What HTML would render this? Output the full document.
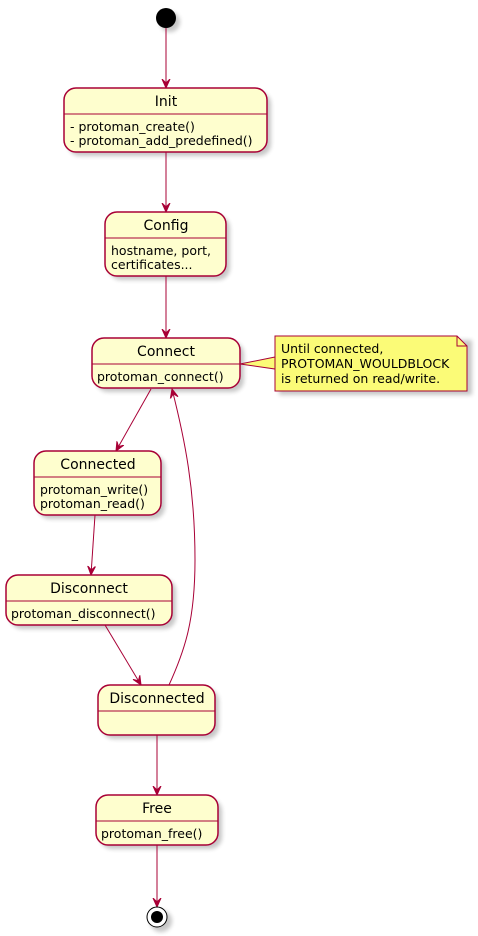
<!DOCTYPE html>
<html><head><meta charset="utf-8"><style>
html,body{margin:0;padding:0;background:#fff;}
svg{display:block;}
text{font-family:"DejaVu Sans","Liberation Sans",sans-serif;fill:#000;}
.t{font-size:14px;text-anchor:middle;}
.b{font-size:12.5px;}
.box{fill:#FEFECE;stroke:#A80036;stroke-width:1.5;}
.ln{stroke:#A80036;stroke-width:1;fill:none;}
.sh{fill:#000;opacity:0.22;filter:url(#bl);}
</style></head><body>
<svg width="478" height="936" viewBox="0 0 478 936" xmlns="http://www.w3.org/2000/svg">
<defs>
<filter id="bl" x="-20%" y="-20%" width="140%" height="140%"><feGaussianBlur stdDeviation="2"/></filter>
<marker id="ar" viewBox="0 0 10 10" refX="9" refY="5" markerWidth="10" markerHeight="10" orient="auto" markerUnits="userSpaceOnUse">
<path d="M0,1 L9,5 L0,9 L4,5 Z" fill="#A80036" stroke="#A80036" stroke-width="1"/></marker>
</defs>

<circle cx="170" cy="22" r="10" class="sh"/>
<rect x="68" y="92" width="203" height="64" rx="12" class="sh"/>
<rect x="109" y="216" width="121" height="64" rx="12" class="sh"/>
<rect x="96" y="342" width="148" height="50" rx="12" class="sh"/>
<rect x="279" y="340" width="193" height="55" class="sh"/>
<rect x="38" y="455" width="127" height="64" rx="12" class="sh"/>
<rect x="10" y="579" width="166" height="50" rx="12" class="sh"/>
<rect x="102" y="689" width="117" height="50" rx="12" class="sh"/>
<rect x="100" y="799" width="122" height="50" rx="12" class="sh"/>
<circle cx="161" cy="921" r="11" class="sh"/>

<circle cx="166" cy="18" r="10" fill="#000"/>

<path d="M166,28 L166,88" class="ln" marker-end="url(#ar)"/>
<path d="M166,152 L166,212" class="ln" marker-end="url(#ar)"/>
<path d="M166,276 L166,338" class="ln" marker-end="url(#ar)"/>
<path d="M151,389 L116,451" class="ln" marker-end="url(#ar)"/>
<path d="M95,515 L91,575" class="ln" marker-end="url(#ar)"/>
<path d="M105,625 L141,685" class="ln" marker-end="url(#ar)"/>
<path d="M169,685 C185,650 195,620 195,560 C195,490 185,440 172,389" class="ln" marker-end="url(#ar)"/>
<path d="M157,735 L157,795" class="ln" marker-end="url(#ar)"/>
<path d="M157,845 L157,907" class="ln" marker-end="url(#ar)"/>

<rect x="64" y="88" width="203" height="64" rx="12" class="box"/>
<line x1="64" y1="114" x2="267" y2="114" class="ln" stroke-width="1.5"/>
<text x="166" y="106" class="t">Init</text>
<text x="70" y="131" class="b">- protoman_create()</text>
<text x="70" y="145" class="b">- protoman_add_predefined()</text>

<rect x="105" y="212" width="121" height="64" rx="12" class="box"/>
<line x1="105" y1="238" x2="226" y2="238" class="ln" stroke-width="1.5"/>
<text x="166" y="230" class="t">Config</text>
<text x="111" y="255" class="b">hostname, port,</text>
<text x="111" y="269" class="b">certificates...</text>

<rect x="92" y="338" width="148" height="50" rx="12" class="box"/>
<line x1="92" y1="364" x2="240" y2="364" class="ln" stroke-width="1.5"/>
<text x="166" y="356" class="t">Connect</text>
<text x="97" y="381" class="b">protoman_connect()</text>

<path d="M240,364 L275,357 L275,369 Z" fill="#FBFB77" stroke="#A80036" stroke-width="1"/>
<path d="M275,336 L457,336 L467,346 L467,391 L275,391 Z" fill="#FBFB77" stroke="#A80036" stroke-width="1"/>
<path d="M457,336 L457,346 L467,346" fill="none" stroke="#A80036" stroke-width="1"/>
<text x="281" y="353" class="b">Until connected,</text>
<text x="281" y="368" class="b">PROTOMAN_WOULDBLOCK</text>
<text x="281" y="383" class="b">is returned on read/write.</text>

<rect x="34" y="451" width="127" height="64" rx="12" class="box"/>
<line x1="34" y1="477" x2="161" y2="477" class="ln" stroke-width="1.5"/>
<text x="98" y="469" class="t">Connected</text>
<text x="40" y="494" class="b">protoman_write()</text>
<text x="40" y="508" class="b">protoman_read()</text>

<rect x="6" y="575" width="166" height="50" rx="12" class="box"/>
<line x1="6" y1="601" x2="172" y2="601" class="ln" stroke-width="1.5"/>
<text x="89" y="593" class="t">Disconnect</text>
<text x="11" y="618" class="b">protoman_disconnect()</text>

<rect x="98" y="685" width="117" height="50" rx="12" class="box"/>
<line x1="98" y1="711" x2="215" y2="711" class="ln" stroke-width="1.5"/>
<text x="157" y="703" class="t">Disconnected</text>

<rect x="96" y="795" width="122" height="50" rx="12" class="box"/>
<line x1="96" y1="821" x2="218" y2="821" class="ln" stroke-width="1.5"/>
<text x="157" y="813" class="t">Free</text>
<text x="101" y="838" class="b">protoman_free()</text>

<circle cx="157" cy="917" r="10" fill="#fff" stroke="#000" stroke-width="1"/>
<circle cx="157" cy="917" r="6" fill="#000"/>
</svg>
</body></html>
